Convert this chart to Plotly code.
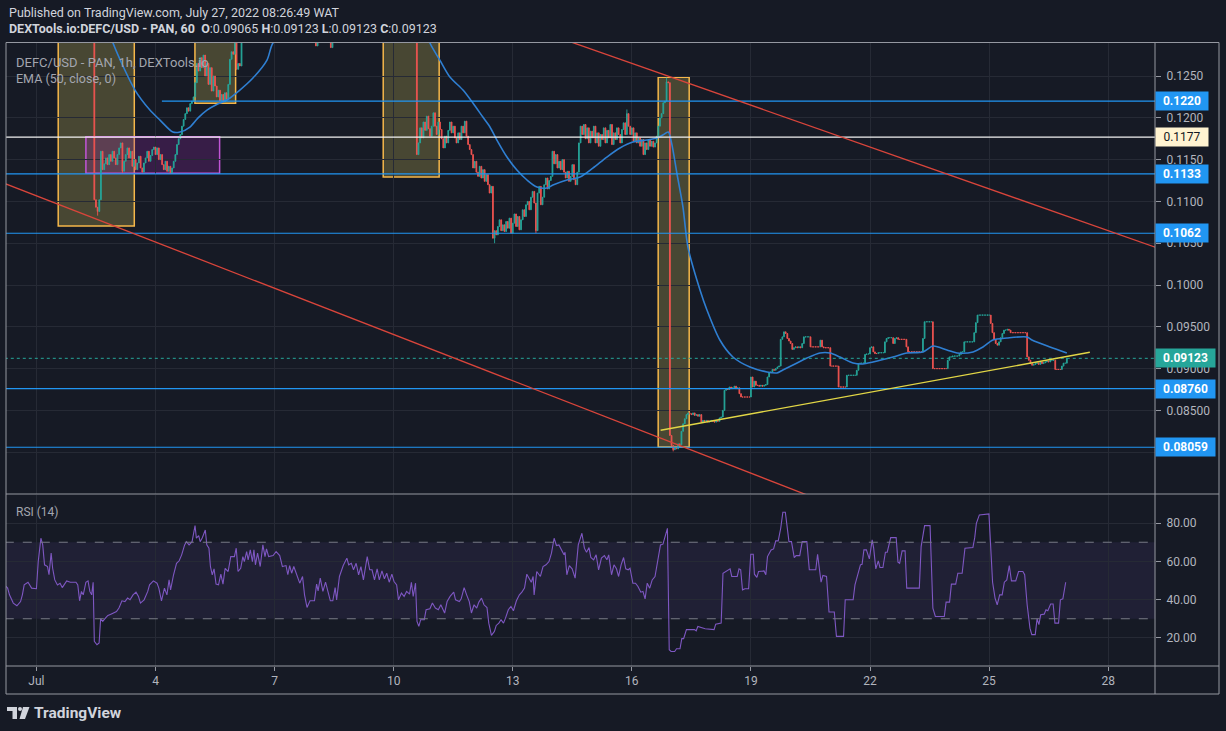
import plotly.graph_objects as go
from datetime import datetime, timedelta

W, H = 1226, 731
BASE = datetime(2022, 7, 1)

# ---------------- data ----------------
# hourly closes (units of 1e-5 USD), keyed by the hour offset (from Jul 1 00:00) of the first value
close_segments = {
    -18: [14200, 14350, 14100, 14400, 14250, 14500, 14300, 14150, 14400, 14600,
          14450, 14300, 14200, 14350, 14500, 14700, 14550, 14400, 14300, 14450,
          14250, 14100, 14300, 14200, 14050, 14250, 14400, 14300, 14150, 14000,
          14200, 14100, 13950, 14150, 14300, 14200, 14100, 13900, 14050, 14200,
          14150, 13950, 13850, 14000, 14100, 13900, 13800, 13950, 14050, 13900,
          13850, 14000, 13950],
    35: [11020, 10930, 10880, 11020, 11600, 11380, 11450, 11520, 11440, 11560,
         11480, 11600, 11520, 11440, 11560, 11640, 11700, 11360, 11480, 11560,
         11640, 11520, 11600, 11420, 11500, 11380, 11460, 11540, 11400, 11350,
         11460, 11520, 11600, 11480, 11550, 11620, 11650, 11560, 11640, 11500,
         11560, 11440, 11380, 11480, 11360, 11420, 11340, 11400, 11480, 11560,
         11680, 11750, 11800, 11900, 11980, 12050, 12120, 12080, 12170, 12200,
         12250],
    96: [12420, 12650, 12560, 12720, 12600, 12750, 12500, 12650, 12400, 12600,
         12320, 12500, 12380, 12250, 12330, 12200, 12280, 12190, 12300, 12220,
         12400, 12700, 12790, 12760, 13000, 12580, 12650, 12620, 13100],
    125: [13300, 13450, 13600, 13500, 13700, 13850, 13750, 13900, 14050, 13950,
          14100, 14000, 13850, 13950, 14100, 14200, 14050, 13900, 14000, 13800,
          13700, 13850, 13950, 13800, 13650, 13750, 13600, 13500, 13650, 13550,
          13400, 13500, 13350, 13450, 13300, 13400, 13250, 13350, 13200, 13300,
          13150, 13250, 13100, 13200, 12860, 13150, 13250, 13100, 13200, 13050,
          13150, 13000, 13100, 12840, 13050, 13200, 13350, 13250, 13400, 13550,
          13450, 13600, 13500, 13650, 13750, 13600, 13700, 13550, 13650, 13500,
          13600, 13450, 13550, 13400, 13500, 13350, 13450, 13600, 13500, 13650,
          13550, 13700, 13600, 13500, 13650, 13550, 13450, 13600, 13500, 13400,
          13550, 13450, 13350, 13500, 13400, 13300, 13450, 13350, 13250, 13400,
          13300, 13200, 13350, 13250, 13300],
    230: [11560, 11700, 11880, 11760, 11950, 11850, 12020, 11870, 11780, 11900,
          12060, 11900, 11800, 11950, 11860, 11750, 11640, 11780, 11700, 11850,
          11950, 11820, 11900, 11760, 11700, 11820, 11740, 11900, 11820, 11960,
          11780, 11680, 11620, 11560, 11400, 11480, 11350, 11300, 11420, 11280,
          11380, 11240, 11320, 11200, 11100, 11180, 10560, 10650, 10600, 10700,
          10780, 10650, 10720, 10640, 10760, 10680, 10800, 10620, 10740, 10850,
          10700, 10820, 10660, 10780, 10900, 10820, 10960, 11000, 10900, 11050,
          11120, 10980, 10650, 11100, 11180, 10960, 11050, 11200, 11280, 11150,
          11250, 11300, 11600, 11450, 11560, 11400, 11480, 11380, 11500, 11350,
          11280, 11360, 11240, 11300, 11440, 11260, 11200, 11350, 11700, 11900,
          11800, 11920, 11750, 11880, 11700, 11840, 11760, 11900, 11700, 11820,
          11660, 11800, 11740, 11880, 11700, 11850, 11760, 11920, 11680, 11820,
          11740, 11880, 11800, 11700, 11860, 11940, 11800, 12050, 11900, 11800,
          11880, 11720, 11820, 11700, 11760, 11660, 11740, 11560, 11700, 11620,
          11740, 11660, 11720, 11650, 11700, 11780, 11900, 12000, 12050, 12180,
          12200, 12430, 12420],
    383: [8200, 8080, 8030, 8060, 8040, 8100, 8090, 8250, 8340, 8400,
          8450, 8470, 8460, 8450, 8470, 8440, 8450, 8430, 8450, 8360,
          8380, 8370, 8380, 8360, 8370, 8380, 8370, 8360, 8380, 8370,
          8410, 8420, 8500, 8740, 8760, 8750, 8780, 8760, 8770, 8790,
          8760, 8770, 8700, 8660, 8660, 8660, 8660, 8660, 8660, 8900,
          8780, 8850, 8800, 8800, 8790, 8800, 8790, 8800, 8810, 8900,
          8950, 8960, 8990, 8980, 9000, 9020, 9030, 9350, 9380, 9440,
          9420, 9360, 9330, 9300, 9230, 9250, 9260, 9250, 9260, 9250,
          9300, 9380, 9380, 9380, 9380, 9260, 9260, 9260, 9260, 9260,
          9260, 9340, 9260, 9250, 9250, 9250, 9250, 9030, 9030, 9030,
          9030, 9030, 8780, 8780, 8780, 8780, 8780, 8920, 8920, 8920,
          8920, 8920, 8920, 8980, 9060, 9065, 9065, 9065, 9170, 9175,
          9175, 9250, 9260, 9200, 9180, 9180, 9190, 9190, 9190, 9190,
          9320, 9360, 9370, 9370, 9370, 9300, 9360, 9370, 9350, 9350,
          9350, 9350, 9350, 9260, 9200, 9200, 9200, 9200, 9200, 9200,
          9200, 9200, 9200, 9360, 9560, 9560, 9560, 9560, 9560, 9000,
          9000, 9000, 9000, 9000, 9000, 9000, 9000, 9000, 9100, 9140,
          9140, 9150, 9150, 9150, 9150, 9170, 9200, 9200, 9320, 9320,
          9320, 9320, 9320, 9320, 9430, 9550, 9640, 9640, 9640, 9640,
          9640, 9640, 9640, 9640, 9540, 9430, 9350, 9300, 9280, 9320,
          9370, 9420, 9460, 9460, 9470, 9460, 9430, 9430, 9430, 9430,
          9430, 9430, 9430, 9430, 9430, 9430, 9140, 9100, 9060, 9040,
          9050, 9060, 9070, 9050, 9080, 9060, 9070, 9080, 9090, 9080,
          9100, 9100, 9100, 8990, 8990, 8990, 8990, 9030, 9065, 9065,
          9123],
}
wick_low = {37: 10830, 52: 11340, 277: 10500, 302: 10620, 385: 8010}
wick_high = {357: 12100, 381: 12480}

# EMA(50): (hour offset, price 1e-5)
ema_points = [
    (-18.4, 14050), (0, 14000), (20, 13900), (34, 13750), (40, 13300), (46.3, 12895),
    (59.6, 12332), (68.6, 12093), (74.7, 11973), (82.5, 11830), (86.8, 11830), (92.8, 11890),
    (97.6, 11997), (103.1, 12093), (109, 12160), (115.2, 12213), (123, 12332), (130.9, 12476),
    (139.4, 12691), (143, 12895), (150, 13000), (160, 13100), (170, 13150), (180, 13150),
    (190, 13250), (200, 13350), (210, 13400), (220, 13400), (230, 13350), (237.9, 12895),
    (243.9, 12691), (250, 12488), (257.9, 12332), (263.9, 12177), (269.9, 12009), (274.2, 11890),
    (278.4, 11734), (284.5, 11531), (290.5, 11375), (296.6, 11256), (302.6, 11172), (308.6, 11160),
    (312.3, 11196), (320.7, 11256), (328.6, 11292), (336.4, 11399), (344.9, 11531), (352.8, 11639),
    (360.6, 11710), (369.1, 11734), (375.1, 11758), (378.7, 11794), (382, 11830), (384, 11700),
    (387.2, 11340), (390.9, 10933), (393.9, 10454), (401.2, 9940), (405.4, 9701), (413.2, 9342),
    (421.1, 9139), (431.4, 9019), (441.7, 8960), (447.7, 8948), (451.3, 8983), (457.4, 9043),
    (465.9, 9127), (473.7, 9187), (479.8, 9187), (485.8, 9139), (493.7, 9067), (499.7, 9055),
    (505.8, 9079), (517.9, 9139), (526.4, 9187), (536, 9199), (542.1, 9270), (550.5, 9223),
    (556.6, 9187), (566.3, 9199), (572.3, 9258), (578.3, 9342), (586.8, 9366), (598.9, 9378),
    (601.9, 9342), (612.8, 9258), (623, 9187),
]

# RSI(14): (hour offset, value)
rsi_points = [
    (-18.5, 47), (-17.4, 46), (-16.3, 42.5), (-14.0, 38.2), (-11.8, 36.8), (-9.6, 39), (-8.5, 42.5),
    (-7.4, 47.7), (-5.1, 49.1), (-4.0, 47.7), (-2.9, 46), (0.0, 45.7), (1.1, 60), (2.7, 72.1),
    (3.8, 68.6), (4.9, 58.2), (6.7, 57.3), (7.6, 53), (8.9, 64.3), (9.8, 56.4), (11.1, 50.3),
    (12.7, 47.7), (14.3, 48.6), (15.6, 46.3), (17.2, 48.6), (18.3, 49.8), (20.5, 49.1), (23.9, 49.1),
    (25.0, 47.7), (26.1, 39.4), (27.2, 44.3), (28.3, 42.5), (29.9, 49.1), (31.2, 49.8), (32.3, 44.3),
    (33.4, 42.5), (34.3, 49.1), (35.0, 18.2), (36.6, 16.4), (37.9, 17.3), (38.8, 30), (40.1, 28.6),
    (41.7, 30.3), (43.2, 31.7), (45.0, 32.4), (46.8, 33), (48.4, 33.8), (49.9, 35.6), (51.7, 39.4),
    (53.5, 39), (55.1, 40.8), (56.6, 39.9), (58.4, 42.5), (60.2, 43.9), (61.7, 41.7), (62.9, 38.2),
    (65.1, 39.9), (67.3, 44.3), (68.4, 47.7), (70.7, 49.8), (72.9, 48.6), (74.0, 46), (75.6, 39.4),
    (77.4, 46), (78.9, 42.5), (80.2, 50.3), (81.1, 45.1), (82.9, 53), (84.7, 59), (86.3, 60.3),
    (87.8, 63.4), (89.6, 68.6), (90.7, 70.3), (92.3, 68.6), (94.1, 70.3), (95.9, 78.7), (96.7, 72.1),
    (98.1, 73.5), (99.0, 70.3), (100.3, 72.4), (102.1, 76.4), (103.0, 68.6), (104.3, 66.9),
    (105.2, 57.3), (106.3, 53), (107.4, 56.1), (108.6, 48.1), (110.1, 47.7), (111.5, 53.3),
    (112.8, 48.1), (114.1, 56.4), (115.9, 54.7), (117.5, 62.5), (119.7, 62.5), (120.8, 66.9),
    (121.9, 54.7), (123.5, 56.4), (124.8, 62.5), (125.7, 59.9), (127.1, 65.1), (128.0, 60.8),
    (129.3, 66), (130.6, 59.9), (131.5, 66), (132.4, 58.2), (133.7, 64.3), (135.3, 57.3),
    (136.9, 68.6), (138.2, 62.5), (139.1, 66.5), (140.4, 62.5), (143.1, 63), (144.9, 65.1),
    (147.1, 63), (148.7, 57.3), (150.9, 57.8), (152.0, 53), (153.1, 57.8), (154.3, 53.8),
    (155.6, 57.3), (157.6, 52.1), (159.2, 48.6), (160.9, 52.1), (162.1, 42.5), (163.6, 35.9),
    (165.4, 39.4), (168.1, 39.4), (169.4, 48.1), (170.3, 44.6), (171.6, 51.2), (173.2, 44.3),
    (174.8, 49.1), (176.5, 43.4), (177.7, 39.4), (179.2, 39.4), (180.6, 46.3), (181.5, 39.9),
    (183.2, 52.1), (185.5, 57.8), (187.7, 61.7), (188.8, 58.2), (190.4, 59), (191.7, 55.6),
    (193.3, 59), (194.8, 53), (196.2, 57.3), (197.7, 50.3), (200.0, 62.5), (201.5, 55.6),
    (202.9, 55.6), (204.4, 50.3), (206.0, 56.1), (207.3, 50.3), (208.9, 55), (210.4, 50.9),
    (211.8, 53.8), (213.3, 49.1), (214.9, 53.3), (216.2, 49.5), (217.8, 47.7), (218.9, 39.9),
    (220.7, 43.4), (222.3, 41.7), (223.8, 44.3), (225.6, 42.9), (226.7, 49.1), (227.8, 41.7),
    (229.2, 48.6), (230.1, 28.6), (231.2, 26), (232.3, 29.5), (234.5, 29.5), (235.6, 34.7),
    (237.9, 35.2), (239.4, 38.2), (241.2, 35.6), (243.0, 34.7), (244.5, 37.3), (246.8, 33),
    (248.3, 39), (250.1, 41.7), (252.3, 43.9), (253.4, 39.9), (255.7, 39), (256.8, 40.4),
    (258.6, 46.3), (260.1, 42.5), (261.7, 39), (263.0, 33), (264.6, 37.3), (266.2, 35.6),
    (267.5, 38.7), (269.1, 40.8), (270.6, 37.3), (272.4, 35.9), (273.5, 27.7), (275.1, 21.3),
    (276.9, 23.4), (278.0, 26.5), (279.6, 27.7), (280.9, 29.5), (282.4, 27.7), (283.6, 30.3),
    (285.3, 34.7), (286.9, 36.4), (288.4, 34.2), (290.2, 39.4), (292.0, 42.5), (293.5, 43.9),
    (295.1, 46), (296.5, 53.3), (298.1, 51.2), (299.2, 49.1), (300.3, 52.1), (300.9, 42.5),
    (302.5, 54.7), (304.7, 52.1), (306.3, 57.3), (308.1, 58.2), (309.9, 59.9), (311.4, 64.3),
    (313.0, 72.1), (314.4, 68.3), (315.9, 68.6), (317.5, 66), (319.0, 63.4), (319.6, 64.8),
    (320.7, 53), (322.2, 57.8), (323.9, 56.1), (325.7, 51.2), (327.6, 68.6), (329.8, 74.7),
    (331.3, 66.9), (332.6, 64.8), (334.1, 67.2), (335.2, 62), (336.9, 60.8), (338.4, 63.4),
    (339.9, 55.6), (341.6, 61.7), (343.4, 63), (344.9, 60.8), (346.0, 63.4), (347.7, 53),
    (349.2, 58.2), (350.7, 56.1), (352.0, 52.1), (353.5, 58.2), (355.0, 62), (356.3, 56.1),
    (357.8, 55.6), (358.9, 56.4), (360.6, 48.6), (362.2, 48.6), (363.7, 46.9), (365.4, 43.9),
    (366.7, 44.3), (368.0, 40.4), (369.3, 48.6), (370.8, 46), (372.3, 50.3), (374.0, 52.1),
    (375.8, 62.5), (377.3, 68.6), (378.8, 69), (381.5, 77.3), (382.6, 13.8), (383.7, 12.9),
    (385.9, 12.9), (387.0, 14.3), (389.1, 14.3), (390.2, 19.6), (391.3, 19.6), (393.0, 24.3),
    (397.8, 24.3), (398.9, 23.7), (399.9, 26), (401.7, 25.5), (403.2, 25.1), (404.3, 24.8),
    (409.7, 24.3), (410.7, 27.2), (414.0, 27.7), (415.1, 53.8), (419.4, 56.1), (420.4, 52.1),
    (423.7, 52.1), (424.8, 56.1), (425.8, 55.6), (426.9, 45.1), (428.4, 45.7), (430.6, 45.7),
    (431.9, 63.7), (433.4, 63.7), (434.1, 53.3), (435.6, 51.6), (436.6, 54.7), (439.9, 55),
    (441.0, 53), (442.0, 62.5), (444.2, 66), (445.7, 66.5), (447.0, 70.7), (448.5, 70.7),
    (450.0, 77.3), (451.3, 85.7), (452.8, 85.7), (453.9, 77.3), (455.0, 70.3), (456.5, 70.3),
    (458.2, 62), (459.3, 63), (461.5, 63), (463.0, 70.3), (465.8, 70.3), (467.3, 55.6),
    (471.2, 55.6), (472.3, 63.7), (473.3, 56.4), (474.4, 49.1), (475.5, 52.6), (477.7, 52.1),
    (479.2, 33.5), (482.4, 33.5), (483.7, 20.8), (488.0, 20.8), (489.0, 39.9), (493.8, 39.9),
    (494.9, 47.7), (496.7, 53), (498.2, 58.2), (499.2, 58.5), (500.3, 66), (501.8, 66),
    (503.6, 61.3), (505.3, 71.2), (506.2, 66.9), (507.5, 56.1), (509.0, 60.3), (510.0, 56.8),
    (511.8, 56.8), (513.3, 64.8), (514.4, 64.8), (516.5, 72.4), (519.8, 72.4), (520.9, 59.6),
    (521.9, 59), (523.4, 65.5), (525.2, 65.5), (526.2, 46), (533.8, 46), (534.9, 67.7),
    (537.0, 78.7), (540.3, 78.7), (542.0, 35.6), (543.5, 31.2), (548.9, 31.2), (550.0, 38.7),
    (552.1, 38.7), (553.2, 48.1), (555.8, 48.1), (557.1, 53.8), (559.7, 53.8), (561.4, 66.9),
    (566.2, 67.2), (567.3, 72.4), (568.3, 79.9), (570.1, 84.3), (575.9, 84.8), (578.1, 49.1),
    (579.6, 40.8), (580.9, 37.3), (582.4, 42.5), (583.9, 42.5), (585.2, 49.1), (586.7, 50.3),
    (588.2, 57.8), (589.5, 49.8), (592.1, 49.8), (593.8, 54.7), (596.4, 54.7), (597.5, 53),
    (599.0, 37.3), (600.7, 25.1), (601.8, 21.7), (603.9, 21.7), (605.0, 30), (606.1, 26.9),
    (607.2, 32.1), (609.3, 32.4), (610.4, 34.7), (611.5, 34.2), (613.2, 37.7), (614.7, 37.7),
    (615.8, 27.7), (618.0, 27.7), (619.1, 39.9), (620.6, 40.4), (622.3, 49.1),
]

level_values = [0.1220, 0.1177, 0.1133, 0.1062, 0.08760, 0.08059]
level_labels = ["0.1220", "0.1177", "0.1133", "0.1062", "0.08760", "0.08059"]
level_starts = ["2022-07-04 03:52", "2022-06-29", "2022-06-29", "2022-06-29", "2022-06-29", "2022-06-29"]
last_price = 0.09123
last_label = "0.09123"

price_ticks = [0.080, 0.085, 0.090, 0.095, 0.100, 0.105, 0.110, 0.115, 0.120, 0.125]
price_tick_text = ["0.08000", "0.08500", "0.09000", "0.09500", "0.1000",
                   "0.1050", "0.1100", "0.1150", "0.1200", "0.1250"]
rsi_ticks = [20, 40, 60, 80]
rsi_tick_text = ["20.00", "40.00", "60.00", "80.00"]
date_ticks = ["2022-07-01", "2022-07-04", "2022-07-07", "2022-07-10", "2022-07-13",
              "2022-07-16", "2022-07-19", "2022-07-22", "2022-07-25", "2022-07-28"]
date_tick_text = ["Jul", "4", "7", "10", "13", "16", "19", "22", "25", "28"]

# drawings (time start, time end, price low, price high)
orange_boxes = [
    ("2022-07-01 13:10", "2022-07-03 11:10", 0.10706, 0.1400),
    ("2022-07-04 23:50", "2022-07-06 00:26", 0.12173, 0.1400),
    ("2022-07-09 17:40", "2022-07-11 03:30", 0.11292, 0.1400),
    ("2022-07-16 15:55", "2022-07-17 10:40", 0.08062, 0.12484),
]
purple_box = ("2022-07-02 05:55", "2022-07-05 14:45", 0.11336, 0.11774)
red_lines = [
    (("2022-06-30 00:00", 0.11251), ("2022-07-21 00:00", 0.07380)),
    (("2022-07-13 12:00", 0.13068), ("2022-07-30 04:00", 0.10289)),
]
yellow_line = (("2022-07-16 17:24", 0.08262), ("2022-07-27 12:54", 0.09195))

# ---------------- build ----------------
def T(h):
    return BASE + timedelta(hours=h)

hours, closes = [], []
for start, vals in close_segments.items():
    for i, v in enumerate(vals):
        hours.append(start + i)
        closes.append(v / 1e5)
opens = [closes[0]] + closes[:-1]
highs = [max(o, c) for o, c in zip(opens, closes)]
lows = [min(o, c) for o, c in zip(opens, closes)]
for i, h in enumerate(hours):
    if h in wick_low:
        lows[i] = min(lows[i], wick_low[h] / 1e5)
    if h in wick_high:
        highs[i] = max(highs[i], wick_high[h] / 1e5)
times = [T(h) for h in hours]

BG = "#161a25"
GRID = "#262a35"
FRAME = "#9598a1"
TXT = "#b2b5be"
UP = "#26a69a"
DN = "#ef5350"
BLUE = "#2196f3"
FONT = "Roboto, sans-serif"

fig = go.Figure()
fig.add_trace(go.Candlestick(
    x=times, open=opens, high=highs, low=lows, close=closes,
    increasing=dict(line=dict(color=UP, width=0.9), fillcolor=UP),
    decreasing=dict(line=dict(color=DN, width=0.9), fillcolor=DN),
    whiskerwidth=0, xaxis="x", yaxis="y", showlegend=False, hoverinfo="skip"))
fig.add_trace(go.Scatter(
    x=[T(h) for h, _ in ema_points], y=[v / 1e5 for _, v in ema_points],
    mode="lines", line=dict(color="#2f7fd2", width=1.6, shape="spline", smoothing=0.8),
    xaxis="x", yaxis="y", showlegend=False, hoverinfo="skip"))
fig.add_trace(go.Scatter(
    x=[T(h) for h, _ in rsi_points], y=[v for _, v in rsi_points],
    mode="lines", line=dict(color="#7e57c2", width=1.1),
    xaxis="x2", yaxis="y2", showlegend=False, hoverinfo="skip"))

def PX(x):
    return x / W

def PY(y):
    return 1 - y / H

X0, X1 = PX(6), PX(1155)
xr = [T(-18.4), T(676.3)]
shapes = []

# boxes
for t0, t1, p0, p1 in orange_boxes:
    shapes.append(dict(type="rect", xref="x", yref="y", x0=t0, x1=t1, y0=p0, y1=p1,
                       fillcolor="rgba(240,220,100,0.23)", line=dict(color="#f5b74a", width=1.5),
                       layer="below"))
t0, t1, p0, p1 = purple_box
shapes.append(dict(type="rect", xref="x", yref="y", x0=t0, x1=t1, y0=p0, y1=p1,
                   fillcolor="rgba(156,39,176,0.25)", line=dict(color="#c155d6", width=1.5),
                   layer="below"))
# RSI band
shapes.append(dict(type="rect", xref="x2", yref="y2", x0=T(-30), x1=T(700), y0=30, y1=70,
                   fillcolor="rgba(126,87,194,0.1)", line=dict(width=0), layer="below"))
# horizontal levels
for lv, st in zip(level_values, level_starts):
    white = abs(lv - 0.1177) < 1e-6
    shapes.append(dict(type="line", xref="x", yref="y", x0=st, x1="2022-07-31", y0=lv, y1=lv,
                       line=dict(color="#f2f2f2" if white else BLUE, width=1.3 if white else 1.1),
                       layer="above"))
shapes.append(dict(type="line", xref="x", yref="y", x0=T(-30), x1=T(700), y0=last_price, y1=last_price,
                   line=dict(color=UP, width=1, dash="dot"), layer="above"))
# trend lines
for (a, b) in red_lines:
    shapes.append(dict(type="line", xref="x", yref="y", x0=a[0], y0=a[1], x1=b[0], y1=b[1],
                       line=dict(color="#d9453b", width=1.3), layer="above"))
a, b = yellow_line
shapes.append(dict(type="line", xref="x", yref="y", x0=a[0], y0=a[1], x1=b[0], y1=b[1],
                   line=dict(color="#e2d646", width=1.4), layer="above"))
# RSI bounds
for lv in (30, 70):
    shapes.append(dict(type="line", xref="x2", yref="y2", x0=T(-30), x1=T(700), y0=lv, y1=lv,
                       line=dict(color="#787b86", width=1, dash="dash"), layer="above"))
# frame
fr = dict(type="line", xref="paper", yref="paper", line=dict(color=FRAME, width=1), layer="above")
shapes += [
    dict(fr, x0=PX(6), x1=PX(1219), y0=PY(42.5), y1=PY(42.5)),
    dict(fr, x0=PX(6), x1=PX(1219), y0=PY(494), y1=PY(494)),
    dict(fr, x0=PX(6), x1=PX(1219), y0=PY(666), y1=PY(666)),
    dict(fr, x0=PX(6), x1=PX(1219), y0=PY(694), y1=PY(694)),
    dict(fr, x0=PX(6), x1=PX(6), y0=PY(42.5), y1=PY(694)),
    dict(fr, x0=PX(1155), x1=PX(1155), y0=PY(42.5), y1=PY(694)),
    dict(fr, x0=PX(1219), x1=PX(1219), y0=PY(42.5), y1=PY(694)),
]
# TradingView logo mark
logo = dict(xref="paper", yref="paper", fillcolor="#d1d4dc", line=dict(width=0), layer="above")
shapes += [
    dict(logo, type="rect", x0=PX(7), x1=PX(17), y0=PY(711), y1=PY(707)),
    dict(logo, type="rect", x0=PX(12.5), x1=PX(17), y0=PY(719), y1=PY(707)),
    dict(logo, type="circle", x0=PX(18), x1=PX(22), y0=PY(711), y1=PY(707)),
    dict(logo, type="path",
         path=f"M {PX(23)},{PY(707)} L {PX(29.5)},{PY(707)} L {PX(25)},{PY(719)} L {PX(19.5)},{PY(719)} Z"),
]

annotations = []
def note(text, x, y, size, color, xanchor="left"):
    annotations.append(dict(text=text, x=PX(x), y=PY(y), xref="paper", yref="paper",
                            xanchor=xanchor, yanchor="middle", showarrow=False,
                            font=dict(size=size, color=color, family=FONT)))

note("Published on TradingView.com, July 27, 2022 08:26:49 WAT", 7, 12, 12.5, "#d1d4dc")
note("<b>DEXTools.io:DEFC/USD - PAN, 60</b>&nbsp;&nbsp;<b>O</b>:0.09065 <b>H</b>:0.09123 "
     "<b>L</b>:0.09123 <b>C</b>:0.09123", 7, 29, 12.5, "#d1d4dc")
note("DEFC/USD - PAN, 1h, DEXTools.io", 14, 62, 13, "#a3a6af")
note("EMA (50, close, 0)", 14, 79, 12.5, "#a3a6af")
note("RSI (14)", 14, 512, 12, "#a3a6af")
note("<b>TradingView</b>", 32, 713, 15.5, "#d1d4dc")

for lv, lab in zip(level_values, level_labels):
    cream = abs(lv - 0.1177) < 1e-6
    annotations.append(dict(text=f"<b>{lab}</b>" if not cream else lab,
                            x=PX(1155), xref="paper", xanchor="left",
                            y=lv, yref="y", yanchor="middle", showarrow=False,
                            bgcolor="#fff3d1" if cream else BLUE,
                            font=dict(size=12, color="#131722" if cream else "#ffffff", family=FONT),
                            borderpad=2, width=48 if len(lab) == 6 else 55, align="center"))
annotations.append(dict(text=f"<b>{last_label}</b>", x=PX(1155), xref="paper", xanchor="left",
                        y=last_price, yref="y", yanchor="middle", showarrow=False, bgcolor=UP,
                        font=dict(size=12, color="#ffffff", family=FONT),
                        borderpad=2, width=55, align="center"))

axis_common = dict(showline=False, zeroline=False, gridcolor=GRID, gridwidth=1,
                   tickfont=dict(size=12, color=TXT, family=FONT), tickcolor=FRAME)

fig.update_layout(
    width=W, height=H, margin=dict(l=0, r=0, t=0, b=0),
    paper_bgcolor=BG, plot_bgcolor=BG, showlegend=False, hovermode=False,
    font=dict(family=FONT, color=TXT, size=12),
    xaxis=dict(axis_common, domain=[X0, X1], anchor="y", type="date", range=xr,
               tickvals=date_ticks, ticktext=date_tick_text, showticklabels=False,
               ticks="", showgrid=True, rangeslider=dict(visible=False)),
    xaxis2=dict(axis_common, domain=[X0, X1], anchor="y2", type="date", range=xr, matches="x",
                tickvals=date_ticks, ticktext=date_tick_text, showticklabels=True,
                ticks="outside", ticklen=4, showgrid=True),
    yaxis=dict(axis_common, domain=[PY(494), PY(43)], anchor="x", side="right",
               range=[0.0750, 0.12895], tickvals=price_ticks, ticktext=price_tick_text,
               ticks="outside", ticklen=5, showgrid=True, ticklabelstandoff=3),
    yaxis2=dict(axis_common, domain=[PY(666), PY(495)], anchor="x2", side="right",
                range=[5.3, 94.7], tickvals=rsi_ticks, ticktext=rsi_tick_text,
                ticks="outside", ticklen=5, showgrid=True, ticklabelstandoff=3),
    shapes=shapes, annotations=annotations,
)

fig.write_html("out.html", config={"displayModeBar": False},
               post_script="document.body.style.margin='0';document.body.style.overflow='hidden';")
